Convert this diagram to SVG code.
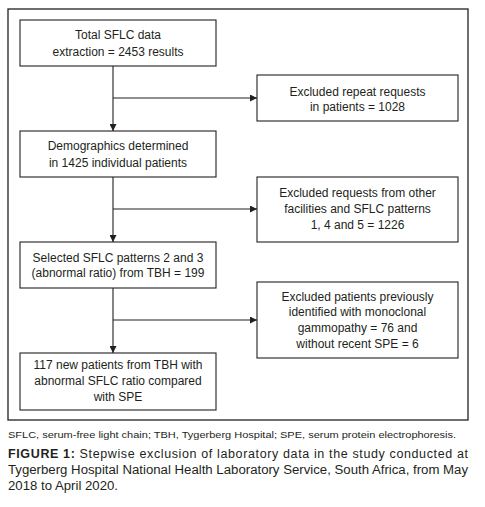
<svg xmlns="http://www.w3.org/2000/svg" width="485" height="507" viewBox="0 0 485 507">
<style>
.box{fill:#fff;stroke:#231f20;stroke-width:1.1}
.frame{fill:none;stroke:#231f20;stroke-width:1.3}
.t{font-family:"Liberation Sans",Arial,sans-serif;font-size:12px;fill:#231f20;text-anchor:middle}
.c{font-family:"Liberation Sans",Arial,sans-serif;fill:#231f20}
.ln{stroke:#231f20;stroke-width:1.1;fill:none}
</style>
<defs>
<marker id="ah" markerWidth="8" markerHeight="7" refX="7" refY="3.5" orient="auto" markerUnits="userSpaceOnUse">
<path d="M0,0 L7,3.5 L0,7 Z" fill="#231f20"/>
</marker>
</defs>
<rect class="frame" x="8" y="9" width="460" height="411"/>
<g id="connectors">
<path class="ln" d="M113,66 V131" marker-end="url(#ah)"/>
<path class="ln" d="M113,98 H257" marker-end="url(#ah)"/>
<path class="ln" d="M113,177 V242" marker-end="url(#ah)"/>
<path class="ln" d="M113,209 H257" marker-end="url(#ah)"/>
<path class="ln" d="M113,288 V353" marker-end="url(#ah)"/>
<path class="ln" d="M113,320 H257" marker-end="url(#ah)"/>
</g>
<g id="n1">
<rect class="box" x="20" y="20" width="196" height="46"/>
<text class="t" x="118" y="39">Total SFLC data</text>
<text class="t" x="118" y="56">extraction = 2453 results</text>
</g>
<g id="n2">
<rect class="box" x="20" y="131" width="196" height="46"/>
<text class="t" x="118" y="150">Demographics determined</text>
<text class="t" x="118" y="167">in 1425 individual patients</text>
</g>
<g id="n3">
<rect class="box" x="20" y="242" width="196" height="46"/>
<text class="t" x="118" y="262">Selected SFLC patterns 2 and 3</text>
<text class="t" x="118" y="277">(abnormal ratio) from TBH = 199</text>
</g>
<g id="n4">
<rect class="box" x="20" y="353" width="196" height="57"/>
<text class="t" x="118" y="369">117 new patients from TBH with</text>
<text class="t" x="118" y="385">abnormal SFLC ratio compared</text>
<text class="t" x="118" y="401">with SPE</text>
</g>
<g id="r1">
<rect class="box" x="257" y="75" width="201" height="46"/>
<text class="t" x="357.5" y="96">Excluded repeat requests</text>
<text class="t" x="357.5" y="111">in patients = 1028</text>
</g>
<g id="r2">
<rect class="box" x="257" y="177" width="201" height="65"/>
<text class="t" x="357.5" y="197">Excluded requests from other</text>
<text class="t" x="357.5" y="213">facilities and SFLC patterns</text>
<text class="t" x="357.5" y="229">1, 4 and 5 = 1226</text>
</g>
<g id="r3">
<rect class="box" x="257" y="282" width="201" height="76"/>
<text class="t" x="357.5" y="301">Excluded patients previously</text>
<text class="t" x="357.5" y="316">identified with monoclonal</text>
<text class="t" x="357.5" y="332">gammopathy = 76 and</text>
<text class="t" x="357.5" y="348">without recent SPE = 6</text>
</g>
<g id="caption">
<text class="c" x="8" y="438" font-size="9.5" textLength="448" lengthAdjust="spacingAndGlyphs">SFLC, serum-free light chain; TBH, Tygerberg Hospital; SPE, serum protein electrophoresis.</text>
<text class="c" x="8" y="458" font-size="12.5" textLength="460" lengthAdjust="spacing"><tspan font-weight="bold">FIGURE 1:</tspan> Stepwise exclusion of laboratory data in the study conducted at</text>
<text class="c" x="8" y="474" font-size="12.5" textLength="460" lengthAdjust="spacingAndGlyphs">Tygerberg Hospital National Health Laboratory Service, South Africa, from May</text>
<text class="c" x="8" y="490" font-size="12.5" textLength="110" lengthAdjust="spacingAndGlyphs">2018 to April 2020.</text>
</g>
</svg>
